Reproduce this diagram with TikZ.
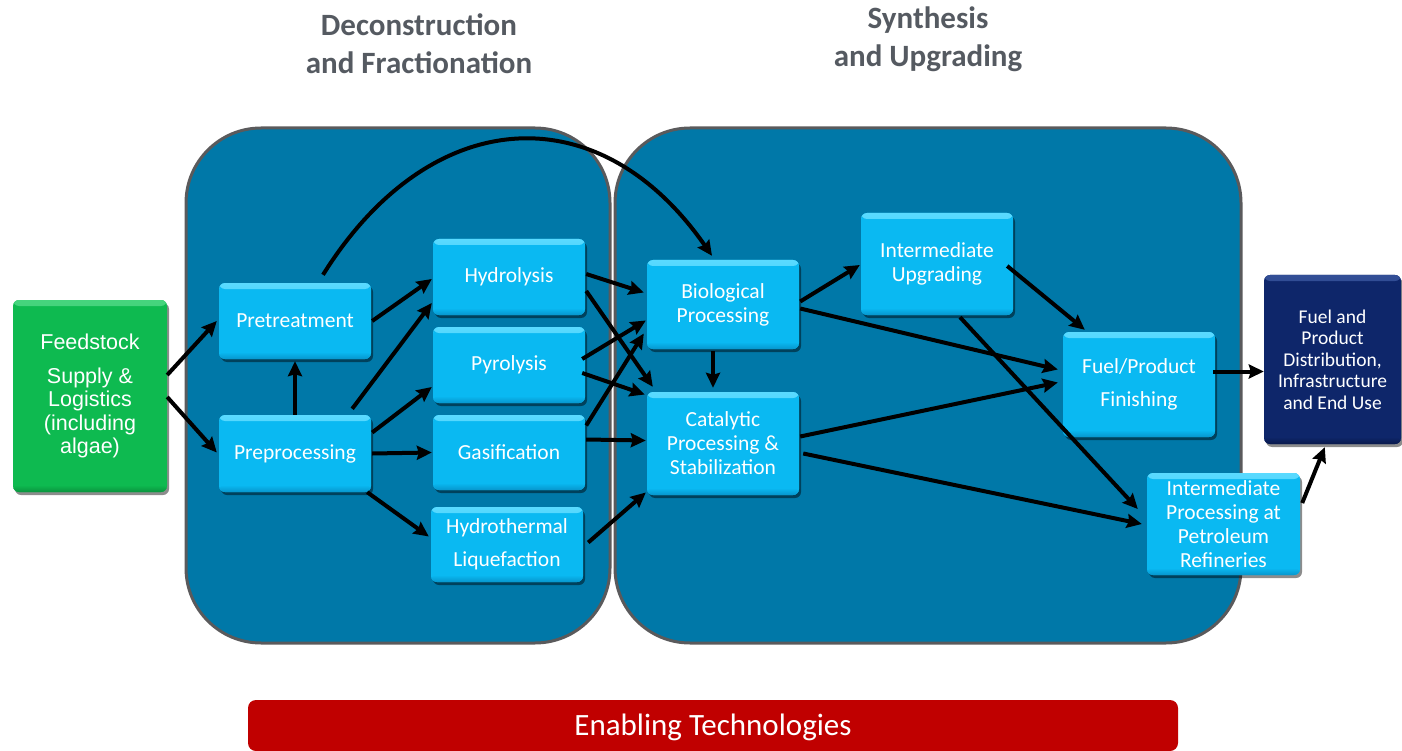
\documentclass[tikz,border=0pt]{standalone}
\usepackage{fontspec}
\setmainfont{Carlito}
\newfontfamily\arialfont{Liberation Sans}
\usetikzlibrary{arrows.meta,calc,shadows}

\definecolor{panelblue}{RGB}{0,120,168}
\definecolor{panelrim}{RGB}{90,90,92}
\definecolor{cyanmain}{RGB}{10,185,242}
\definecolor{cyanlight}{RGB}{90,218,255}
\definecolor{cyandark}{RGB}{6,150,205}
\definecolor{greenmain}{RGB}{14,186,80}
\definecolor{greenlight}{RGB}{70,212,125}
\definecolor{greendark}{RGB}{10,148,62}
\definecolor{navymain}{RGB}{14,38,106}
\definecolor{navylight}{RGB}{50,78,150}
\definecolor{navydark}{RGB}{8,24,74}
\definecolor{titlegray}{RGB}{85,90,97}
\definecolor{barred}{RGB}{192,0,0}

\tikzset{
  bevel/.style n args={3}{
    fill=#2,
    path picture={
      \shade[top color=#1, bottom color=#2]
        (path picture bounding box.north west) rectangle
        ([yshift=-6pt]path picture bounding box.north east);
      \shade[top color=#2, bottom color=#3]
        ([yshift=7pt]path picture bounding box.south west) rectangle
        (path picture bounding box.south east);
    }},
  procbox/.style={
    rounded corners=6pt, align=center, text=white, inner sep=2pt,
    minimum width=152, minimum height=76,
    font=\fontsize{21.5}{24}\selectfont,
    bevel={cyanlight}{cyanmain}{cyandark},
    drop shadow={shadow xshift=2pt, shadow yshift=-3pt, opacity=0.45, fill=black}},
  feedbox/.style={procbox, bevel={greenlight}{greenmain}{greendark},
    font=\arialfont\fontsize{21.5}{23.5}\selectfont},
  endbox/.style={procbox, bevel={navylight}{navymain}{navydark},
    font=\fontsize{19.5}{21.5}\selectfont},
  panel/.style={fill=panelblue, draw=panelrim, line width=3pt, rounded corners=75pt},
  heading/.style={text=titlegray, align=center, font=\bfseries\fontsize{31}{38}\selectfont},
  arr/.style={line width=4pt, -{Stealth[length=15pt,width=14pt,inset=2pt]}}
}

\begin{document}
\begin{tikzpicture}[x=1pt,y=-1pt]
\useasboundingbox (0,0) rectangle (1402,751);

% stage panels
\draw[panel] (186,128) rectangle (610,643);
\draw[panel] (615,128) rectangle (1241,643);

% stage headings
\node[heading] (hdec) at (419,44) {Deconstruction\\and Fractionation};
\node[heading] (hsyn) at (928,39) {Synthesis\\and Upgrading};

% feedstock and end use
\node[feedbox, minimum width=154, minimum height=192] (feed) at (90,396)
  {Feedstock\\[10pt]Supply \&\\Logistics\\(including\\algae)};
\node[endbox, minimum width=137, minimum height=169] (fpd) at (1332.5,359.5)
  {Fuel and\\Product\\Distribution,\\Infrastructure\\and End Use};

% deconstruction steps
\node[procbox] (pret) at (295,321) {Pretreatment};
\node[procbox, minimum height=77] (prep) at (295,453.5) {Preprocessing};
\node[procbox] (hyd) at (509,277) {Hydrolysis};
\node[procbox] (pyr) at (509,365) {Pyrolysis};
\node[procbox, minimum height=75] (gas) at (509,452.5) {Gasification};
\node[procbox, minimum height=75] (htl) at (507,544.5) {Hydrothermal\\[9pt]Liquefaction};

% synthesis steps
\node[procbox, minimum height=89] (bio) at (723,304.5) {Biological\\Processing};
\node[procbox, minimum height=103] (cat) at (723,443.5) {Catalytic\\Processing \&\\Stabilization};
\node[procbox, minimum height=102] (iup) at (937,264) {Intermediate\\Upgrading};
\node[procbox, minimum height=105] (fpf) at (1139,384.5) {Fuel/Product\\[9pt]Finishing};
\node[procbox, minimum width=153, minimum height=102] (ipr) at (1223.5,524)
  {Intermediate\\Processing at\\Petroleum\\Refineries};

% enabling technologies bar
\fill[barred, rounded corners=8pt] (248,700) rectangle (1178,751);
\node[text=white, font=\fontsize{31}{36}\selectfont] (enab) at (713,727) {Enabling Technologies};

% flows
\draw[arr] ($(feed.east)+(0,-21)$) -- ($(pret.west)+(-2,0)$);
\draw[arr] ($(feed.east)+(0,1)$) -- ($(prep.west)+(-2,-1)$);
\draw[arr] (prep.north) -- ($(pret.south)+(0,2)$);
\draw[arr] ($(pret.east)+(1,0)$) -- ($(hyd.west)+(-1,2)$);
\draw[arr] ($(prep.north east)+(-19,-6)$) -- ($(hyd.west)+(-1,26)$);
\draw[arr] ($(prep.east)+(1,-21)$) -- ($(pyr.west)+(-1,22)$);
\draw[arr] ($(prep.east)+(1,0)$) -- ($(gas.west)+(-1,0)$);
\draw[arr] ($(prep.south east)+(-4,0)$) -- ($(htl.west)+(-2,-8)$);
\draw[arr] ($(pret.north)+(28,-8)$) .. controls +(106,-170) and +(-114,-164) .. ($(bio.north)+(-11,-4)$);

\draw[arr] ($(hyd.east)+(1,-3)$) -- ($(bio.west)+(-3,-12)$);
\draw[arr] ($(hyd.east)+(1,14)$) -- ($(cat.north west)+(6,-5)$);
\draw[arr] ($(pyr.east)+(-3,-6)$) -- ($(bio.west)+(-1,16)$);
\draw[arr] ($(pyr.east)+(-3,8)$) -- ($(cat.west)+(-2,-49)$);
\draw[arr] ($(gas.east)+(1,-27)$) -- ($(bio.west)+(-3,29)$);
\draw[arr] ($(gas.east)+(1,-13)$) -- ($(cat.west)+(-1,-3)$);
\draw[arr] ($(htl.east)+(5,-2)$) -- ($(cat.west)+(-1,49)$);

\draw[arr] ($(bio.south)+(-10,2)$) -- ($(cat.north)+(-10,-4)$);
\draw[arr] ($(bio.east)+(1,-3)$) -- ($(iup.west)+(-1,1)$);
\draw[arr] ($(bio.east)+(1,4)$) -- ($(fpf.west)+(-5,-15)$);
\draw[arr] ($(cat.east)+(1,-7)$) -- ($(fpf.west)+(-5,-2)$);
\draw[arr] ($(cat.east)+(4,10)$) -- ($(ipr.west)+(-5,0)$);
\draw[arr] ($(iup.east)+(-6,2)$) -- ($(fpf.north west)+(22,-2)$);
\draw[arr] ($(iup.south)+(23,2)$) -- ($(ipr.west)+(-9,-15)$);
\draw[arr] ($(fpf.east)+(-2,-13)$) -- ($(fpd.west)+(0,12)$);
\draw[arr] ($(ipr.east)+(2,-21)$) -- ($(fpd.south west)+(61,3)$);
\end{tikzpicture}
\end{document}
